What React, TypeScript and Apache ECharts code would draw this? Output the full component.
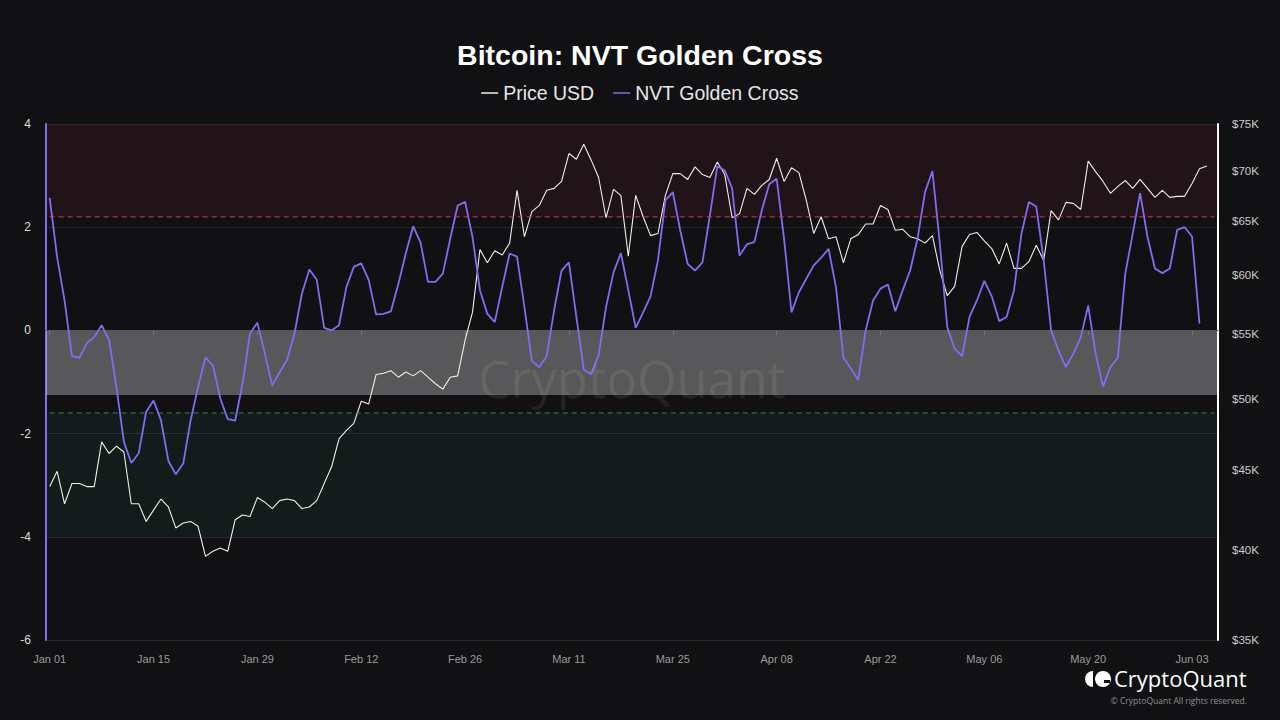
import React, { useEffect, useRef } from "react";
import * as echarts from "echarts";

// ---- categories (daily, 2024-01-01 .. 2024-06-06) ----
const MONTHS = ["Jan", "Feb", "Mar", "Apr", "May", "Jun"];
const START_MS = Date.UTC(2024, 0, 1);
const DAY_COUNT = 158;
const dates: string[] = [];
for (let i = 0; i < DAY_COUNT; i++) {
  const d = new Date(START_MS + i * 86400000);
  dates.push(`${MONTHS[d.getUTCMonth()]} ${String(d.getUTCDate()).padStart(2, "0")}`);
}

// ---- Price USD (thousands) ----
const priceK = [
  43.9, 44.9, 42.8, 44.1, 44.1, 43.9, 43.9, 46.9, 46.1, 46.6,
  46.2, 42.8, 42.8, 41.7, 42.4, 43.1, 42.6, 41.3, 41.6, 41.7,
  41.4, 39.6, 39.9, 40.1, 39.9, 41.8, 42.1, 42.0, 43.2, 42.9,
  42.5, 43.0, 43.1, 43.0, 42.5, 42.6, 43.0, 44.1, 45.2, 47.1,
  47.7, 48.2, 49.8, 49.6, 51.8, 51.9, 52.1, 51.6, 52.0, 51.7,
  52.1, 51.6, 51.1, 50.7, 51.6, 51.7, 54.5, 56.8, 62.3, 61.1,
  62.2, 61.8, 62.9, 68.0, 63.5, 65.9, 66.5, 68.0, 68.2, 68.9,
  71.8, 71.2, 72.8, 71.1, 69.3, 65.3, 68.1, 67.5, 61.7, 67.5,
  65.4, 63.6, 63.8, 67.5, 69.7, 69.7, 69.1, 70.4, 69.6, 69.3,
  70.9, 69.6, 65.3, 65.7, 68.2, 67.6, 68.5, 69.1, 71.3, 68.9,
  70.3, 69.8, 67.0, 63.8, 65.4, 63.3, 63.5, 61.1, 63.3, 63.7,
  64.7, 64.7, 66.5, 66.1, 64.1, 64.2, 63.5, 63.3, 62.9, 63.6,
  60.4, 58.2, 59.0, 62.6, 63.7, 63.9, 63.1, 62.4, 61.0, 62.9,
  60.6, 60.6, 61.2, 62.7, 61.3, 66.0, 65.1, 66.8, 66.7, 66.1,
  71.0, 69.9, 68.9, 67.7, 68.4, 69.0, 68.2, 69.1, 68.2, 67.3,
  68.0, 67.3, 67.4, 67.4, 68.7, 70.2, 70.5,
];

// ---- NVT Golden Cross ----
const nvtGoldenCross = [
  2.57, 1.42, 0.58, -0.5, -0.53, -0.25, -0.13, 0.1, -0.19, -1.1,
  -2.16, -2.57, -2.38, -1.58, -1.36, -1.74, -2.53, -2.79, -2.58, -1.74,
  -1.1, -0.52, -0.68, -1.32, -1.72, -1.75, -1.03, -0.06, 0.15, -0.45,
  -1.07, -0.81, -0.57, -0.06, 0.71, 1.18, 0.98, 0.05, 0.0, 0.1,
  0.84, 1.23, 1.3, 0.98, 0.31, 0.32, 0.37, 0.9, 1.49, 2.02,
  1.7, 0.94, 0.94, 1.1, 1.78, 2.42, 2.49, 1.81, 0.78, 0.32,
  0.16, 0.84, 1.49, 1.43, 0.45, -0.59, -0.71, -0.5, 0.39, 1.16,
  1.32, 0.26, -0.76, -0.85, -0.48, 0.45, 1.12, 1.5, 0.78, 0.05,
  0.35, 0.66, 1.36, 2.52, 2.68, 1.94, 1.29, 1.16, 1.32, 2.23,
  3.18, 3.1, 2.75, 1.45, 1.67, 1.71, 2.33, 2.83, 2.94, 1.78,
  0.35, 0.74, 1.0, 1.26, 1.41, 1.58, 0.84, -0.53, -0.74, -0.96,
  0.0, 0.58, 0.81, 0.89, 0.37, 0.78, 1.16, 1.78, 2.68, 3.09,
  1.68, 0.06, -0.36, -0.5, 0.26, 0.58, 0.96, 0.66, 0.18, 0.26,
  0.78, 1.87, 2.49, 2.4, 1.36, 0.0, -0.39, -0.71, -0.45, -0.13,
  0.48, -0.45, -1.09, -0.71, -0.53, 1.1, 1.87, 2.66, 1.81, 1.2,
  1.11, 1.2, 1.95, 2.0, 1.82, 0.13,
];

// ---- axis ticks ----
const priceTicksK = [35, 40, 45, 50, 55, 60, 65, 70, 75];
const nvtMin = -6;
const nvtMax = 4;
const nvtInterval = 2;

// ---- zones ----
const overheatedZone = [2.2, 4];
const neutralZone = [-1.25, 0];
const undervaluedZone = [-4, -1.6];
const overheatedLine = 2.2;
const undervaluedLine = -1.6;

const PURPLE = "#7f6df2";
const AXIS_FONT = "'Liberation Sans', Arial, sans-serif";
const BRAND_FONT = "'Open Sans', 'Noto Sans', sans-serif";

export default function App() {
  const ref = useRef<HTMLDivElement>(null);

  useEffect(() => {
    if (!ref.current) return;
    const chart = echarts.init(ref.current, undefined, { renderer: "svg" });

    const logPrice = priceK.map((v) => Math.log(v * 1000));
    const priceTickValues = priceTicksK.map((v) => Math.log(v * 1000));

    chart.setOption({
      animation: false,
      backgroundColor: "#111114",
      textStyle: { fontFamily: AXIS_FONT },
      title: {
        text: "Bitcoin: NVT Golden Cross",
        left: "center",
        top: 40,
        padding: 0,
        textStyle: { color: "#ffffff", fontSize: 28.5, fontWeight: "bold", fontFamily: AXIS_FONT },
      },
      legend: {
        top: 78,
        left: "center",
        data: ["Price USD", "NVT Golden Cross"],
        icon: "rect",
        itemWidth: 17,
        itemHeight: 1.5,
        itemGap: 19,
        textStyle: { color: "#e6e6e6", fontSize: 19.5, fontFamily: AXIS_FONT },
      },
      grid: { left: 46, right: 62, top: 124, bottom: 80 },
      xAxis: {
        type: "category",
        data: dates,
        boundaryGap: true,
        axisLine: { show: true, lineStyle: { color: "#3a3a3e", width: 1 } },
        axisTick: { show: true, interval: 13, alignWithLabel: true, length: 5, lineStyle: { color: "#3a3a3e" } },
        axisLabel: { interval: 13, color: "#9a9a9a", fontSize: 11, margin: 13 },
        splitLine: { show: false },
      },
      yAxis: [
        {
          type: "value",
          min: nvtMin,
          max: nvtMax,
          interval: nvtInterval,
          position: "left",
          axisLine: { show: true, lineStyle: { color: PURPLE, width: 2 } },
          axisTick: { show: false },
          axisLabel: { color: "#dddddd", fontSize: 12, margin: 15 },
          splitLine: { show: true, lineStyle: { color: "#26262b", width: 1 } },
        },
        {
          type: "value",
          min: Math.log(35000),
          max: Math.log(75000),
          position: "right",
          axisLine: { show: true, lineStyle: { color: "#ffffff", width: 2 } },
          axisTick: { show: false, customValues: priceTickValues },
          axisLabel: {
            color: "#cccccc",
            fontSize: 11.5,
            margin: 14,
            customValues: priceTickValues,
            formatter: (v: number) => "$" + Math.round(Math.exp(v) / 1000) + "K",
          },
          splitLine: { show: false },
        },
      ],
      series: [
        {
          name: "Price USD",
          type: "line",
          yAxisIndex: 1,
          data: logPrice,
          showSymbol: false,
          symbol: "none",
          z: 2,
          lineStyle: { color: "#eeeeee", width: 1.1 },
          itemStyle: { color: "#eeeeee" },
        },
        {
          name: "NVT Golden Cross",
          type: "line",
          yAxisIndex: 0,
          data: nvtGoldenCross,
          showSymbol: false,
          symbol: "none",
          z: 3,
          lineStyle: { color: PURPLE, width: 1.8 },
          itemStyle: { color: PURPLE },
        },
        {
          name: "zones",
          type: "line",
          yAxisIndex: 0,
          data: [],
          z: 5,
          silent: true,
          markArea: {
            silent: true,
            label: { show: false },
            data: [
              [
                { yAxis: overheatedZone[1], itemStyle: { color: "rgba(210,45,70,0.09)" } },
                { yAxis: overheatedZone[0] },
              ],
              [
                { yAxis: neutralZone[1], itemStyle: { color: "rgba(255,255,255,0.3)" } },
                { yAxis: neutralZone[0] },
              ],
              [
                { yAxis: undervaluedZone[1], itemStyle: { color: "rgba(60,150,110,0.08)" } },
                { yAxis: undervaluedZone[0] },
              ],
            ],
          },
        },
        {
          name: "overheated",
          type: "line",
          yAxisIndex: 0,
          data: dates.map(() => overheatedLine),
          showSymbol: false,
          symbol: "none",
          silent: true,
          z: 6,
          lineStyle: { color: "#e0344f", width: 1, type: [5, 4] },
          itemStyle: { color: "#e0344f" },
        },
        {
          name: "undervalued",
          type: "line",
          yAxisIndex: 0,
          data: dates.map(() => undervaluedLine),
          showSymbol: false,
          symbol: "none",
          silent: true,
          z: 6,
          lineStyle: { color: "#5d7064", width: 1, type: [5, 4] },
          itemStyle: { color: "#5d7064" },
        },
      ],
      graphic: [
        {
          type: "text",
          x: 632,
          y: 378,
          z: 100,
          silent: true,
          style: {
            text: "CryptoQuant",
            fontSize: 51,
            fontFamily: BRAND_FONT,
            fill: "rgba(255,255,255,0.08)",
            align: "center",
            verticalAlign: "middle",
          },
        },
        {
          type: "sector",
          z: 100,
          shape: { cx: 1093, cy: 679, r: 8, r0: 0, startAngle: Math.PI / 2, endAngle: (Math.PI * 3) / 2 },
          style: { fill: "#ffffff" },
        },
        {
          type: "circle",
          z: 100,
          shape: { cx: 1103, cy: 679, r: 8 },
          style: { fill: "#ffffff" },
        },
        {
          type: "rect",
          z: 101,
          shape: { x: 1104, y: 680, width: 6, height: 3 },
          style: { fill: "#111114" },
        },
        {
          type: "text",
          x: 1114,
          y: 678,
          z: 100,
          style: {
            text: "CryptoQuant",
            fontSize: 22,
            fontWeight: 500,
            fontFamily: BRAND_FONT,
            fill: "#ffffff",
            align: "left",
            verticalAlign: "middle",
            lineHeight: 22,
          },
        },
        {
          type: "text",
          x: 1247,
          y: 700,
          z: 100,
          style: {
            text: "© CryptoQuant All rights reserved.",
            fontSize: 8.5,
            fontFamily: BRAND_FONT,
            fill: "#8f8f8f",
            align: "right",
            verticalAlign: "middle",
            lineHeight: 9,
          },
        },
      ],
    });

    return () => chart.dispose();
  }, []);

  return (
    <div
      ref={ref}
      style={{ position: "fixed", left: 0, top: 0, width: 1280, height: 720, background: "#111114" }}
    />
  );
}
